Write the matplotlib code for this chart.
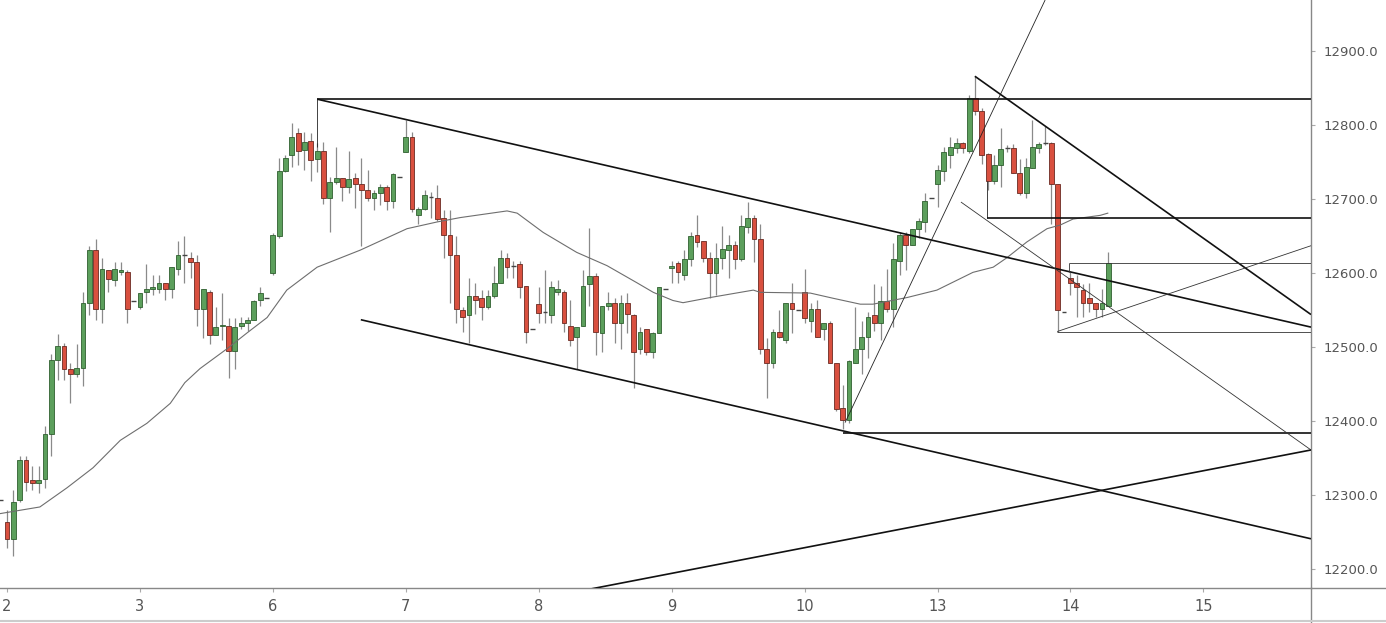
import matplotlib
matplotlib.use('Agg')
import matplotlib.pyplot as plt
from matplotlib.lines import Line2D
import numpy as np

# hourly candles, index 0 = first bar of day "2"
opens = [12294,
         12264, 12241, 12294, 12348, 12321, 12317, 12322, 12382, 12483, 12501,
         12470, 12464, 12472, 12559, 12631, 12552, 12604, 12590, 12602, 12602,
         12562, 12554, 12574, 12578, 12579, 12586, 12578, 12606, 12624, 12621,
         12615, 12551, 12575, 12516, 12528, 12528, 12495, 12528, 12532, 12537,
         12563, 12567, 12600, 12650, 12738, 12759, 12789, 12766, 12778, 12754,
         12765, 12702, 12723, 12728, 12716, 12728, 12720, 12712, 12701, 12708,
         12717, 12698, 12730, 12763, 12784, 12679, 12686, 12703, 12702, 12675,
         12651, 12624, 12550, 12543, 12569, 12566, 12554, 12569, 12586, 12621,
         12609, 12612, 12582, 12525, 12558, 12547, 12543, 12574, 12575, 12529,
         12513, 12528, 12585, 12596, 12519, 12555, 12560, 12533, 12560, 12543,
         12498, 12524, 12493, 12519, 12579, 12607, 12613, 12598, 12619, 12652,
         12643, 12620, 12600, 12621, 12631, 12638, 12619, 12662, 12674, 12646,
         12497, 12478, 12521, 12510, 12559, 12550, 12574, 12535, 12552, 12524,
         12532, 12478, 12418, 12401, 12479, 12498, 12514, 12543, 12533, 12562,
         12552, 12617, 12651, 12638, 12660, 12669, 12701, 12721, 12738, 12759,
         12769, 12776, 12765, 12836, 12819, 12761, 12725, 12746, 12769, 12769,
         12735, 12708, 12742, 12769, 12776, 12776, 12720, 12547, 12593, 12586,
         12577, 12566, 12559, 12552, 12556]
highs = [12294,
         12280, 12307, 12353, 12353, 12339, 12339, 12394, 12491, 12518, 12505,
         12479, 12504, 12575, 12636, 12646, 12620, 12604, 12615, 12615, 12604,
         12562, 12573, 12612, 12598, 12597, 12587, 12608, 12644, 12650, 12628,
         12624, 12578, 12577, 12554, 12573, 12539, 12539, 12540, 12540, 12563,
         12581, 12567, 12654, 12755, 12759, 12803, 12796, 12790, 12789, 12776,
         12777, 12730, 12771, 12728, 12765, 12735, 12755, 12739, 12712, 12721,
         12719, 12735, 12730, 12807, 12790, 12689, 12712, 12709, 12719, 12685,
         12685, 12650, 12554, 12594, 12586, 12577, 12577, 12610, 12631, 12627,
         12617, 12617, 12583, 12525, 12581, 12604, 12589, 12590, 12577, 12563,
         12527, 12604, 12661, 12600, 12555, 12574, 12567, 12570, 12573, 12545,
         12527, 12524, 12520, 12581, 12579, 12617, 12617, 12631, 12655, 12678,
         12643, 12629, 12640, 12663, 12651, 12644, 12679, 12696, 12678, 12667,
         12512, 12524, 12550, 12560, 12587, 12550, 12605, 12560, 12563, 12533,
         12535, 12478, 12449, 12482, 12554, 12535, 12547, 12585, 12583, 12605,
         12640, 12655, 12655, 12660, 12675, 12708, 12701, 12746, 12770, 12784,
         12782, 12777, 12840, 12866, 12823, 12762, 12759, 12796, 12773, 12774,
         12754, 12755, 12807, 12777, 12799, 12777, 12720, 12547, 12601, 12597,
         12585, 12586, 12560, 12579, 12628]
lows = [12294,
        12228, 12218, 12291, 12306, 12307, 12303, 12310, 12353, 12456, 12456,
        12424, 12459, 12448, 12544, 12536, 12533, 12575, 12583, 12597, 12532,
        12562, 12552, 12560, 12571, 12573, 12563, 12566, 12597, 12586, 12593,
        12529, 12512, 12504, 12516, 12509, 12458, 12471, 12525, 12522, 12537,
        12556, 12567, 12598, 12647, 12737, 12743, 12746, 12739, 12724, 12736,
        12694, 12656, 12721, 12698, 12708, 12688, 12636, 12698, 12685, 12692,
        12685, 12688, 12730, 12763, 12682, 12667, 12685, 12674, 12671, 12621,
        12559, 12532, 12521, 12506, 12545, 12536, 12552, 12567, 12586, 12594,
        12593, 12567, 12505, 12525, 12532, 12532, 12532, 12570, 12520, 12502,
        12471, 12528, 12556, 12489, 12493, 12550, 12505, 12498, 12519, 12445,
        12491, 12489, 12485, 12519, 12579, 12587, 12587, 12590, 12610, 12635,
        12615, 12567, 12570, 12606, 12594, 12606, 12617, 12654, 12615, 12491,
        12431, 12472, 12512, 12506, 12519, 12550, 12532, 12520, 12513, 12510,
        12478, 12414, 12389, 12398, 12478, 12464, 12485, 12522, 12509, 12547,
        12527, 12597, 12604, 12638, 12648, 12655, 12701, 12689, 12725, 12742,
        12762, 12762, 12762, 12813, 12748, 12712, 12721, 12716, 12763, 12735,
        12705, 12702, 12742, 12762, 12773, 12667, 12520, 12547, 12570, 12540,
        12540, 12547, 12540, 12540, 12556]
closes = [12294,
          12241, 12291, 12348, 12318, 12317, 12321, 12382, 12483, 12501, 12471,
          12464, 12472, 12559, 12631, 12552, 12605, 12592, 12605, 12604, 12551,
          12562, 12573, 12578, 12581, 12586, 12578, 12608, 12624, 12625, 12615,
          12551, 12578, 12517, 12527, 12530, 12495, 12527, 12532, 12537, 12562,
          12573, 12567, 12651, 12738, 12755, 12784, 12765, 12777, 12753, 12765,
          12702, 12723, 12728, 12716, 12727, 12720, 12712, 12701, 12708, 12717,
          12698, 12734, 12730, 12784, 12686, 12686, 12705, 12703, 12673, 12651,
          12624, 12552, 12541, 12569, 12564, 12554, 12569, 12586, 12621, 12608,
          12609, 12581, 12520, 12525, 12546, 12547, 12581, 12578, 12533, 12510,
          12527, 12583, 12596, 12520, 12555, 12560, 12533, 12560, 12545, 12494,
          12521, 12493, 12519, 12581, 12579, 12609, 12601, 12619, 12650, 12642,
          12621, 12600, 12621, 12632, 12638, 12619, 12663, 12675, 12646, 12497,
          12478, 12521, 12513, 12559, 12552, 12550, 12539, 12552, 12514, 12532,
          12479, 12417, 12402, 12481, 12498, 12514, 12541, 12532, 12562, 12552,
          12619, 12651, 12638, 12660, 12671, 12698, 12701, 12739, 12763, 12770,
          12776, 12769, 12836, 12819, 12759, 12725, 12746, 12767, 12769, 12735,
          12708, 12743, 12770, 12774, 12776, 12720, 12550, 12547, 12586, 12581,
          12560, 12560, 12552, 12559, 12613]
first_idx = -1

# moving average (bar index, price)
ma_idx = [-1.1, 5.2, 9.5, 13.6, 17.9, 22.1, 25.8, 28.1, 30.5, 34.8, 37.9, 41.1,
          44.2, 49.0, 55.8, 63.2, 67.9, 71.6, 79.0, 80.6, 84.7, 90.0, 94.8,
          99.5, 102.1, 105.2, 106.8, 111.1, 117.9, 119.0, 126.9, 130.5, 134.8,
          136.8, 142.2, 146.9, 152.6, 155.8, 158.0, 161.1, 164.3, 166.4, 168.4,
          172.7, 173.9]
ma_val = [12275, 12284, 12310, 12337, 12374, 12397, 12424, 12452, 12471, 12498,
          12519, 12540, 12577, 12608, 12631, 12660, 12669, 12675, 12684, 12681,
          12655, 12628, 12610, 12587, 12574, 12563, 12560, 12567, 12577, 12574,
          12573, 12566, 12558, 12558, 12567, 12577, 12601, 12608, 12621, 12642,
          12660, 12665, 12673, 12678, 12681]

day_labels = ['2', '3', '6', '7', '8', '9', '10', '13', '14', '15']
bars_per_day = 21
y_ticks = [12200, 12300, 12400, 12500, 12600, 12700, 12800, 12900]

x_right = 206.0
# trend lines: (x1, y1, x2, y2, linewidth, colour)
thick = 1.2
thin = 0.6
drawings = [
    (49.0, 12835, x_right, 12835, thick, '#111111'),
    (49.0, 12835, 49.0, 12770, thin, '#222222'),
    (49.0, 12835, x_right, 12527, thick, '#111111'),
    (55.9, 12537, x_right, 12241, thick, '#111111'),
    (132.1, 12384, x_right, 12384, thick, '#111111'),
    (132.4, 12398, 164.0, 12969, thin, '#222222'),
    (152.9, 12866, x_right, 12544, thick, '#111111'),
    (150.7, 12696, x_right, 12361, thin, '#333333'),
    (92.1, 12173, x_right, 12361, thick, '#111111'),
    (154.8, 12725, 154.8, 12674, thin, '#222222'),
    (154.8, 12674, x_right, 12674, thick, '#111111'),
    (167.8, 12614, 167.8, 12601, thin, '#333333'),
    (167.8, 12614, x_right, 12614, thin, '#333333'),
    (165.9, 12521, x_right, 12521, thin, '#333333'),
    (165.9, 12521, x_right, 12637, thin, '#333333'),
]

up_col = '#5c9f5c'
up_edge = '#2f5f2f'
dn_col = '#d9503f'
dn_edge = '#6a2a22'
wick_col = '#8a8a8a'
text_col = '#555555'

fig = plt.figure(figsize=(13.86, 6.23), dpi=100)
ax = fig.add_axes([0, 35 / 623, 1311 / 1386, 588 / 623])

idx = np.arange(len(opens)) + first_idx
width = 0.75
for i, o, h, l, c in zip(idx, opens, highs, lows, closes):
    ax.vlines(i, l, h, color=wick_col, linewidth=0.9, zorder=2)
    if c >= o:
        fc, ec = up_col, up_edge
    else:
        fc, ec = dn_col, dn_edge
    body = abs(c - o)
    if body < 1.5:
        ax.hlines((o + c) / 2, i - width / 2, i + width / 2, color='#444444',
                  linewidth=1.0, zorder=3)
    else:
        ax.bar(i, c - o, bottom=o, width=width, color=fc, edgecolor=ec,
               linewidth=0.6, zorder=3)

ax.plot(ma_idx, ma_val, color='#6e6e6e', linewidth=0.8, zorder=4)

for x1, y1, x2, y2, lw, col in drawings:
    ax.plot([x1, x2], [y1, y2], color=col, linewidth=lw, zorder=5,
            solid_capstyle='butt')

ax.set_xlim(-1.1, x_right)
ax.set_ylim(12174.5, 12969)

ax.set_xticks([k * bars_per_day for k in range(len(day_labels))])
ax.set_xticklabels(day_labels)
ax.yaxis.tick_right()
ax.set_yticks(y_ticks)
ax.set_yticklabels(['{:.1f}'.format(v) for v in y_ticks])
ax.tick_params(axis='both', colors='#aaaaaa', labelcolor=text_col,
               labelsize=9.5, length=3, width=0.8)
ax.tick_params(axis='x', pad=5, labelsize=10.5)
ax.tick_params(axis='y', pad=6)

for side in ['left', 'top']:
    ax.spines[side].set_visible(False)
for side in ['right', 'bottom']:
    ax.spines[side].set_color('#888888')
    ax.spines[side].set_linewidth(1.0)

# axis lines run on to the picture edge
fig.add_artist(Line2D([1311 / 1386, 1311 / 1386], [0, 35 / 623],
                      color='#888888', linewidth=1.0))
fig.add_artist(Line2D([1311 / 1386, 1], [35 / 623, 35 / 623],
                      color='#888888', linewidth=1.0))
fig.add_artist(Line2D([0, 1], [2 / 623, 2 / 623], color='#cccccc',
                      linewidth=1.5))

fig.savefig('out.png', dpi=100)
